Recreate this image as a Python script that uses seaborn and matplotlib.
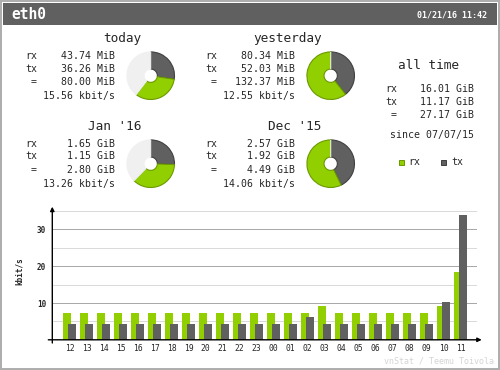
import matplotlib
matplotlib.use("Agg")
import matplotlib.pyplot as plt
import seaborn as sns
import numpy as np
from matplotlib.patches import Rectangle

# ---------------- data ----------------
interface = "eth0"
timestamp = "01/21/16 11:42"

period_titles = ["today", "yesterday", "Jan '16", "Dec '15"]
period_rx = [43.74, 80.34, 1.65, 2.57]
period_tx = [36.26, 52.03, 1.15, 1.92]
period_total = [80.00, 132.37, 2.80, 4.49]
period_unit = ["MiB", "MiB", "GiB", "GiB"]
period_rate = [15.56, 12.55, 13.26, 14.06]

alltime_rx = 16.01
alltime_tx = 11.17
alltime_total = 27.17
alltime_unit = "GiB"
since_date = "07/07/15"

hours = ["12", "13", "14", "15", "16", "17", "18", "19", "20", "21", "22", "23",
         "00", "01", "02", "03", "04", "05", "06", "07", "08", "09", "10", "11"]
rx_rate = [7.3, 7.3, 7.3, 7.3, 7.3, 7.3, 7.3, 7.3, 7.3, 7.3, 7.3, 7.3,
           7.3, 7.3, 7.3, 9.2, 7.3, 7.3, 7.3, 7.3, 7.3, 7.3, 9.2, 18.4]
tx_rate = [4.3, 4.3, 4.3, 4.3, 4.3, 4.3, 4.3, 4.3, 4.3, 4.3, 4.3, 4.3,
           4.3, 4.3, 6.2, 4.3, 4.3, 4.3, 4.3, 4.3, 4.3, 4.3, 10.3, 33.9]

# ---------------- style ----------------
GREEN = "#92cf00"
GREEN_D = "#6b9a00"
GRAY = "#606060"
GRAY_D = "#404040"
PIE_BG = "#f0f0f0"

sns.set_style("white")
plt.rcParams["font.family"] = ["DejaVu Sans Mono"]

W, H = 500, 370
PX = 72 / 100  # points per pixel

fig = plt.figure(figsize=(5, 3.7), dpi=100)
bg = fig.add_axes([0, 0, 1, 1], zorder=0)
bg.set_xlim(0, W)
bg.set_ylim(H, 0)
bg.axis("off")

# frame and header
bg.add_patch(Rectangle((1, 1), 498, 368, fill=False, edgecolor="#aeaeae", lw=2 * PX))
bg.add_patch(Rectangle((3, 3), 494, 22, facecolor="#606060", edgecolor="none"))
bg.text(11.5, 19.3, interface, color="white", fontsize=10.5, fontweight="bold",
        ha="left", va="baseline")
bg.text(487, 17.5, timestamp, color="white", fontsize=6, fontweight="bold",
        ha="right", va="baseline")

# ---------------- summary blocks ----------------
label_x = [25, 205, 25, 205]
value_x = [115, 295, 115, 295]
title_x = [141.7, 321.7, 141.7, 321.7]
title_y = [41.7, 41.7, 130, 129.6]
rows_y = [[59.3, 71.7, 85, 99.3], [59.3, 71.7, 85, 99.3],
          [147.3, 159, 173, 186.7], [147.3, 159, 173, 186.7]]
pie_c = [(150.7, 75.7), (330.7, 75.7), (150.7, 163.7), (330.7, 163.7)]
pie_r = 24.5
pair = [1, 0, 3, 2]

FS = 7.1
for i in range(4):
    bg.text(title_x[i], title_y[i], period_titles[i], fontsize=9.2,
            ha="right", va="baseline")
    ry = rows_y[i]
    u = period_unit[i]
    bg.text(label_x[i], ry[0], "rx", fontsize=FS, ha="left", va="baseline")
    bg.text(label_x[i], ry[1], "tx", fontsize=FS, ha="left", va="baseline")
    bg.text(label_x[i], ry[2], " =", fontsize=FS, ha="left", va="baseline")
    bg.text(value_x[i], ry[0], f"{period_rx[i]:.2f} {u}", fontsize=FS, ha="right", va="baseline")
    bg.text(value_x[i], ry[1], f"{period_tx[i]:.2f} {u}", fontsize=FS, ha="right", va="baseline")
    bg.text(value_x[i], ry[2], f"{period_total[i]:.2f} {u}", fontsize=FS, ha="right", va="baseline")
    bg.text(value_x[i], ry[3], f"{period_rate[i]:.2f} kbit/s", fontsize=FS, ha="right", va="baseline")

    # pie
    cx, cy = pie_c[i]
    pa = fig.add_axes([(cx - pie_r) / W, 1 - (cy + pie_r) / H, 2 * pie_r / W, 2 * pie_r / H], zorder=1)
    scale = max(period_total[i], period_total[pair[i]])
    vals = [period_tx[i], period_rx[i], max(scale - period_total[i], 0)]
    wedges, _ = pa.pie(vals, colors=[GRAY, GREEN, PIE_BG], startangle=90,
                       counterclock=False, radius=1,
                       wedgeprops=dict(width=0.72, linewidth=0.8))
    for w, ec in zip(wedges, [GRAY_D, GREEN_D, PIE_BG]):
        w.set_edgecolor(ec)
    pa.set_xlim(-1.03, 1.03)
    pa.set_ylim(-1.03, 1.03)
    pa.axis("off")

# all time block
bg.text(428.7, 69.3, "all time", fontsize=9.2, ha="center", va="baseline")
bg.text(385, 92.3, "rx", fontsize=FS, ha="left", va="baseline")
bg.text(385, 105, "tx", fontsize=FS, ha="left", va="baseline")
bg.text(385, 118.3, " =", fontsize=FS, ha="left", va="baseline")
bg.text(474, 92.3, f"{alltime_rx:.2f} {alltime_unit}", fontsize=FS, ha="right", va="baseline")
bg.text(474, 105, f"{alltime_tx:.2f} {alltime_unit}", fontsize=FS, ha="right", va="baseline")
bg.text(474, 118.3, f"{alltime_total:.2f} {alltime_unit}", fontsize=FS, ha="right", va="baseline")
bg.text(474, 138.3, f"since {since_date}", fontsize=FS, ha="right", va="baseline")

# legend
bg.add_patch(Rectangle((398.5, 159.5), 5.5, 5.5, facecolor=GREEN, edgecolor=GREEN_D, lw=PX))
bg.text(408.3, 165, "rx", fontsize=FS, ha="left", va="baseline")
bg.add_patch(Rectangle((440.5, 159.5), 5.5, 5.5, facecolor=GRAY, edgecolor=GRAY_D, lw=PX))
bg.text(451.7, 165, "tx", fontsize=FS, ha="left", va="baseline")

# ---------------- hourly bar chart ----------------
left, right, bottom, top = 52.3, 476.7, 339.8, 206.7
ax = fig.add_axes([left / W, 1 - bottom / H, (right - left) / W, (bottom - top) / H], zorder=2)
ax.patch.set_alpha(0)

idx = np.arange(len(hours))
sns.barplot(x=idx - 0.135, y=rx_rate, native_scale=True, width=0.45, color=GREEN,
            saturation=1, linewidth=0, errorbar=None, orient="x", ax=ax, zorder=2)
sns.barplot(x=idx + 0.16, y=tx_rate, native_scale=True, width=0.45, color=GRAY,
            saturation=1, linewidth=0, errorbar=None, orient="x", ax=ax, zorder=3)

ax.set_xlim(-1.01, 23.95)
ax.set_ylim(0, 36.2)
ax.set_xticks(idx, hours, fontsize=5.8)
ax.set_yticks([10, 20, 30], ["10", "20", "30"], fontsize=5.5, fontweight="bold")
ax.set_yticks([5, 15, 25, 35], minor=True)
ax.tick_params(axis="both", which="both", length=0)
ax.tick_params(axis="x", pad=3)
ax.tick_params(axis="y", pad=4.5)
ax.set_xlabel("")
ax.set_ylabel("")
ax.grid(True, axis="y", which="major", color="#a9a9a9", lw=PX)
ax.grid(True, axis="y", which="minor", color="#dadada", lw=PX)
ax.grid(False, axis="x")
ax.set_axisbelow(True)
for s in ax.spines.values():
    s.set_visible(False)

ax.annotate("", xy=(1.0118, 0), xytext=(-0.0094, 0), xycoords="axes fraction",
            arrowprops=dict(arrowstyle="-|>", color="black", lw=1.0, mutation_scale=6,
                            shrinkA=0, shrinkB=0), annotation_clip=False, zorder=5)
ax.annotate("", xy=(0, 1.0), xytext=(0, -0.024), xycoords="axes fraction",
            arrowprops=dict(arrowstyle="-|>", color="black", lw=1.0, mutation_scale=6,
                            shrinkA=0, shrinkB=0), annotation_clip=False, zorder=5)

bg.text(19.5, 271.5, "kbit/s", rotation=90, fontsize=5.5, fontweight="bold",
        ha="center", va="center")
bg.text(494, 361, "vnStat / Teemu Toivola", color="#d4d4d4", fontsize=6,
        ha="right", va="center")

fig.savefig("out.png", dpi=100)
